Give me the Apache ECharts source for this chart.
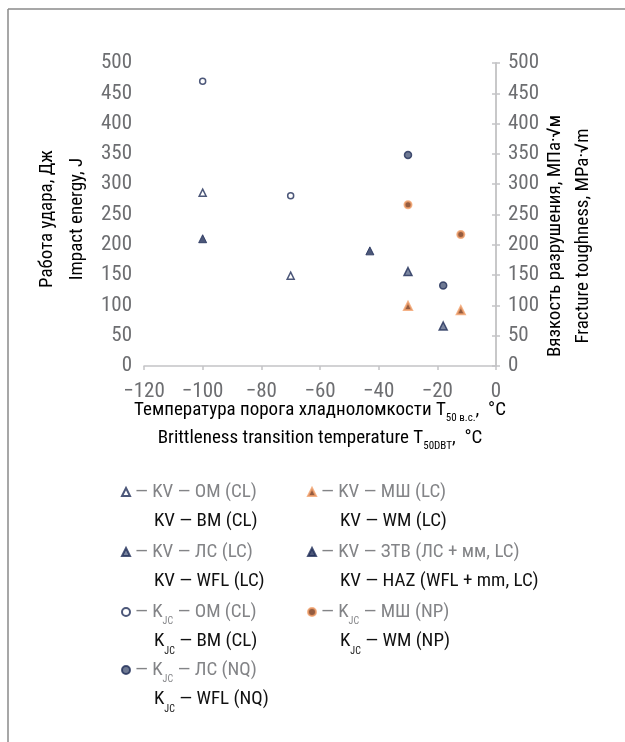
<!DOCTYPE html>
<html>
<head>
<meta charset="utf-8">
<script src="https://cdn.jsdelivr.net/npm/echarts@6/dist/echarts.min.js"></script>
<style>html,body{margin:0;padding:0;background:#fff}#c{width:625px;height:742px}</style>
</head>
<body>
<div id="c"></div>
<script>
// ---- data ----
const xTicks = [-120, -100, -80, -60, -40, -20, 0];
const yTicks = [0, 50, 100, 150, 200, 250, 300, 350, 400, 450, 500];

const kvOM_x = [-100, -70];   const kvOM_y = [286, 149];
const kvLS_x = [-30, -18];    const kvLS_y = [156, 66];
const kvZTV_x = [-100, -43];  const kvZTV_y = [210, 190];
const kvMSH_x = [-30, -12];   const kvMSH_y = [99, 92];
const kjcOM_x = [-100, -70];  const kjcOM_y = [470, 281];
const kjcLS_x = [-30, -18];   const kjcLS_y = [348, 133];
const kjcMSH_x = [-30, -12];  const kjcMSH_y = [266, 217];

const seriesNames = ['kvOM', 'kvLS', 'kjcOM', 'kjcLS', 'kvMSH', 'kvZTV', 'kjcMSH'];
const legendRu = {
  kvOM: ['KV', 'ОМ (CL)'], kvLS: ['KV', 'ЛС (LC)'], kjcOM: ['K', 'ОМ (CL)'], kjcLS: ['K', 'ЛС (NQ)'],
  kvMSH: ['KV', 'МШ (LC)'], kvZTV: ['KV', 'ЗТВ (ЛС + мм, LC)'], kjcMSH: ['K', 'МШ (NP)']
};
const legendEn = {
  kvOM: 'BM (CL)', kvLS: 'WFL (LC)', kjcOM: 'BM (CL)', kjcLS: 'WFL (NQ)',
  kvMSH: 'WM (LC)', kvZTV: 'HAZ (WFL + mm, LC)', kjcMSH: 'WM (NP)'
};
// legend layout: column and row
const legendCol1 = ['kvOM', 'kvLS', 'kjcOM', 'kjcLS'];
const legendCol2 = ['kvMSH', 'kvZTV', 'kjcMSH'];

const FONT = "'Roboto Condensed', 'DejaVu Sans Condensed', sans-serif";
const GRAY = '#838487';
const TICKGRAY = '#6d6e71';
const BLACK = '#111111';
const NAVY = '#1f2d58';
const ORANGE = '#f3a06a';
const BROWN = '#7a3310';
const AXIS = '#c4c4c6';

function zip(xs, ys) { return xs.map((x, i) => [x, ys[i]]); }
const minus = v => String(v).replace('-', '\u2212');

const LH = 29.5;
const FS = 19;
const rich = {
  e: { fontSize: FS, lineHeight: LH, fontFamily: FONT },
  g: { fontSize: FS, lineHeight: LH, color: GRAY, fontFamily: FONT },
  gs: { fontSize: 10, lineHeight: LH, color: GRAY, fontFamily: FONT, verticalAlign: 'bottom' },
  b: { fontSize: FS, lineHeight: LH, color: BLACK, fontFamily: FONT },
  bs: { fontSize: 10, lineHeight: LH, color: BLACK, fontFamily: FONT, verticalAlign: 'bottom' },
  bi: { fontSize: FS, lineHeight: LH, color: BLACK, fontFamily: FONT, padding: [0, 0, 0, 19] }
};
function legendText(name) {
  const ru = legendRu[name], en = legendEn[name];
  let l1, l2;
  if (ru[0] === 'K') {
    l1 = '{g|— K}{gs|JC}{g| — ' + ru[1] + '}';
    l2 = '{bi|K}{bs|JC}{b| — ' + en + '}';
  } else {
    l1 = '{g|— KV — ' + ru[1] + '}';
    l2 = '{bi|KV — ' + en + '}';
  }
  return '{e| }\n' + l1 + '\n' + l2;
}

const styles = {
  kvOM:   { symbol: 'triangle', size: 7, itemStyle: { color: '#ffffff', borderColor: NAVY, borderWidth: 1.5 } },
  kvLS:   { symbol: 'triangle', size: 8, itemStyle: { color: '#5a6888', borderColor: NAVY, borderWidth: 1.5 } },
  kvZTV:  { symbol: 'triangle', size: 8, itemStyle: { color: NAVY, borderColor: NAVY, borderWidth: 1 } },
  kvMSH:  { symbol: 'triangle', size: 8, itemStyle: { color: BROWN, borderColor: ORANGE, borderWidth: 2 } },
  kjcOM:  { symbol: 'circle', size: 6, itemStyle: { color: '#ffffff', borderColor: NAVY, borderWidth: 1.5 } },
  kjcLS:  { symbol: 'circle', size: 7, itemStyle: { color: '#4a5878', borderColor: NAVY, borderWidth: 1.5 } },
  kjcMSH: { symbol: 'circle', size: 7, itemStyle: { color: BROWN, borderColor: ORANGE, borderWidth: 2 } }
};
const dataMap = {
  kvOM: zip(kvOM_x, kvOM_y), kvLS: zip(kvLS_x, kvLS_y), kvZTV: zip(kvZTV_x, kvZTV_y),
  kvMSH: zip(kvMSH_x, kvMSH_y), kjcOM: zip(kjcOM_x, kjcOM_y), kjcLS: zip(kjcLS_x, kjcLS_y),
  kjcMSH: zip(kjcMSH_x, kjcMSH_y)
};

const series = seriesNames.map(n => ({
  name: n, type: 'scatter',
  yAxisIndex: n.startsWith('kjc') ? 1 : 0,
  symbol: styles[n].symbol, symbolSize: styles[n].size,
  itemStyle: styles[n].itemStyle,
  data: dataMap[n]
}));

// one legend component per entry so rows sit exactly on the reference's rhythm
const rowGray = [491, 551, 611, 669];
const GRAY_OFFSET = 38; // distance from legend top to centre of grey line
const legends = [];
legendCol1.forEach((n, i) => legends.push({ name: n, left: 121, top: rowGray[i] - GRAY_OFFSET }));
legendCol2.forEach((n, i) => legends.push({ name: n, left: 307, top: rowGray[i] - GRAY_OFFSET }));
const legendOpts = legends.map(l => ({
  data: [l.name], orient: 'vertical', left: l.left, top: l.top,
  padding: 0, itemWidth: 8, itemHeight: 8, selectedMode: false,
  formatter: legendText, textStyle: { rich: rich, fontFamily: FONT }
}));

function yAxisCfg(pos) {
  return {
    type: 'value', position: pos, min: yTicks[0], max: yTicks[yTicks.length - 1], interval: 50,
    axisLine: { show: true, lineStyle: { color: AXIS, width: 1.5 } },
    axisTick: { show: true, length: 4, lineStyle: { color: AXIS, width: 1.5 } },
    splitLine: { show: false },
    axisLabel: { color: TICKGRAY, fontSize: 21, fontFamily: FONT, margin: 12 }
  };
}

const chart = echarts.init(document.getElementById('c'), null, { renderer: 'canvas' });
chart.setOption({
  animation: false,
  backgroundColor: '#ffffff',
  grid: { left: 144, right: 129, top: 63, height: 303, containLabel: false },
  xAxis: {
    type: 'value', min: xTicks[0], max: xTicks[xTicks.length - 1], interval: 20,
    axisLine: { show: true, onZero: false, lineStyle: { color: AXIS, width: 1.5 } },
    axisTick: { show: true, length: 4, lineStyle: { color: AXIS, width: 1.5 } },
    splitLine: { show: false },
    axisLabel: { color: TICKGRAY, fontSize: 21, fontFamily: FONT, margin: 15, formatter: minus }
  },
  yAxis: [yAxisCfg('left'), yAxisCfg('right')],
  legend: legendOpts,
  graphic: [
    { type: 'line', shape: { x1: 8, y1: 9, x2: 625, y2: 9 }, style: { stroke: '#8a8a8a', lineWidth: 1.5 } },
    { type: 'line', shape: { x1: 8, y1: 9, x2: 8, y2: 742 }, style: { stroke: '#8a8a8a', lineWidth: 1.5 } },
    {
      type: 'text', x: 62, y: 219, rotation: Math.PI / 2,
      style: {
        text: '{g|Работа удара, Дж}\n{b|Impact energy, J}',
        align: 'center', verticalAlign: 'middle',
        rich: {
          g: { fontSize: FS, lineHeight: 30, color: GRAY, fontFamily: FONT },
          b: { fontSize: FS, lineHeight: 30, color: BLACK, fontFamily: FONT }
        }
      }
    },
    {
      type: 'text', x: 569, y: 236, rotation: Math.PI / 2,
      style: {
        text: '{g|Вязкость разрушения, МПа·√м}\n{b|Fracture toughness, MPa·√m}',
        align: 'center', verticalAlign: 'middle',
        rich: {
          g: { fontSize: FS, lineHeight: 28, color: GRAY, fontFamily: FONT },
          b: { fontSize: FS, lineHeight: 28, color: BLACK, fontFamily: FONT }
        }
      }
    },
    {
      type: 'text', x: 320, y: 424,
      style: {
        text: '{g|Температура порога хладноломкости Т}{gs|50 в.с.}{g|,  °C}\n{b|Brittleness transition temperature T}{bs|50DBT}{b|,  °C}',
        align: 'center', verticalAlign: 'middle',
        rich: {
          g: { fontSize: FS, lineHeight: 28, color: GRAY, fontFamily: FONT },
          gs: { fontSize: 11, lineHeight: 28, color: GRAY, fontFamily: FONT, verticalAlign: 'bottom' },
          b: { fontSize: FS, lineHeight: 28, color: BLACK, fontFamily: FONT },
          bs: { fontSize: 11, lineHeight: 28, color: BLACK, fontFamily: FONT, verticalAlign: 'bottom' }
        }
      }
    }
  ],
  series: series
});
</script>
</body>
</html>
